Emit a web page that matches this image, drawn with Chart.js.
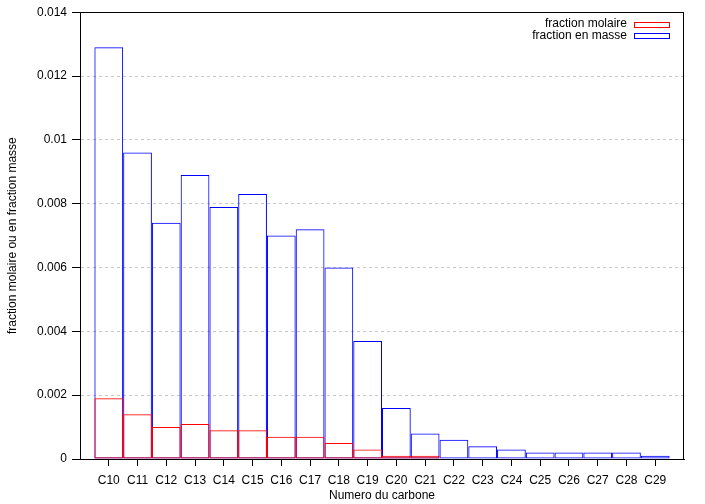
<!DOCTYPE html>
<html>
<head>
<meta charset="utf-8">
<script src="https://cdn.jsdelivr.net/npm/chart.js@4.4.1/dist/chart.umd.min.js"></script>
<style>
html,body{margin:0;padding:0;background:#fff;}
#wrap{width:705px;height:504px;position:relative;}
</style>
</head>
<body>
<div id="wrap"><canvas id="c" width="705" height="504"></canvas></div>
<script>
const categories = ['C10','C11','C12','C13','C14','C15','C16','C17','C18','C19','C20','C21','C22','C23','C24','C25','C26','C27','C28','C29'];
const firstCarbon = 10;
const fractionMolaire = [0.0019,0.0014,0.0010,0.0011,0.0009,0.0009,0.0007,0.0007,0.0005,0.0003,0.0001,0.0001,0,0,0,0,0,0,0,0];
const fractionMasse = [0.0129,0.0096,0.0074,0.0089,0.0079,0.0083,0.0070,0.0072,0.0060,0.0037,0.0016,0.0008,0.0006,0.0004,0.0003,0.0002,0.0002,0.0002,0.0002,0.0001];
const yTickLabels = ['0','0.002','0.004','0.006','0.008','0.01','0.012','0.014'];
const seriesNames = ['fraction molaire','fraction en masse'];
const seriesColors = ['#ff0000','#0000ff'];

const FONT = "'Liberation Sans', Arial, Helvetica, sans-serif";

function pts(arr){ return arr.map((v,i)=>({x: firstCarbon+i, y: v})); }

const frame = {
  id:'frame',
  afterDatasetsDraw(chart){
    const {ctx, chartArea:a} = chart;
    ctx.save();
    ctx.strokeStyle = '#000';
    ctx.lineWidth = 1;
    ctx.strokeRect(Math.round(a.left)+0.5, Math.round(a.top)+0.5, Math.round(a.right-a.left)-1, Math.round(a.bottom-a.top));
    // legend
    ctx.font = '12px ' + FONT;
    ctx.textAlign = 'right';
    ctx.textBaseline = 'middle';
    ctx.fillStyle = '#000';
    const rows = [24, 35.5];
    for (let i=0;i<2;i++){
      const y = rows[i];
      ctx.fillText(seriesNames[i], 627, y);
      ctx.strokeStyle = seriesColors[i];
      ctx.strokeRect(634.5, Math.round(y-2.5)+0.5, 35, 5);
    }
    ctx.restore();
  }
};

new Chart(document.getElementById('c'), {
  type:'bar',
  data:{
    datasets:[
      {label:seriesNames[1], data:pts(fractionMasse), backgroundColor:'rgba(0,0,0,0)', borderColor:seriesColors[1], borderWidth:1, borderSkipped:false, inflateAmount:0, order:2},
      {label:seriesNames[0], data:pts(fractionMolaire), backgroundColor:'rgba(0,0,0,0)', borderColor:seriesColors[0], borderWidth:1, borderSkipped:false, inflateAmount:0, order:1}
    ]
  },
  options:{
    responsive:false,
    animation:false,
    devicePixelRatio:1,
    layout:{padding:{left:0,right:21,top:12,bottom:0}},
    datasets:{bar:{barPercentage:1, categoryPercentage:1, grouped:false}},
    plugins:{legend:{display:false}, tooltip:{enabled:false}},
    scales:{
      x:{
        type:'linear', min:9, max:30, offset:false,
        afterBuildTicks(scale){ scale.ticks = categories.map((c,i)=>({value:firstCarbon+i})); },
        afterFit(scale){ scale.height = 45; },
        ticks:{
          autoSkip:false, maxRotation:0, padding:7,
          font:{family:FONT, size:12}, color:'#000',
          callback:(v)=> categories[Math.round(v)-firstCarbon] ?? ''
        },
        grid:{drawOnChartArea:false, offset:false, tickLength:7, tickColor:'#000', color:'#000'},
        border:{display:true, color:'#000'},
        title:{display:true, text:'Numero du carbone', font:{family:FONT, size:12}, color:'#000', padding:{top:0,bottom:1.5}}
      },
      y:{
        min:0, max:0.014,
        afterFit(scale){ scale.width = 80; },
        ticks:{
          stepSize:0.002, padding:5,
          font:{family:FONT, size:12}, color:'#000',
          callback:(v)=> yTickLabels[Math.round(v/0.002)] ?? ''
        },
        grid:{color:'#c8c8c8', tickColor:'#000', tickLength:8, lineWidth:1},
        border:{display:true, color:'#000', dash:[3,3]},
        title:{display:true, text:'fraction molaire ou en fraction masse', font:{family:FONT, size:12}, color:'#000', padding:{top:5,bottom:0}}
      }
    }
  },
  plugins:[frame]
});
</script>
</body>
</html>
